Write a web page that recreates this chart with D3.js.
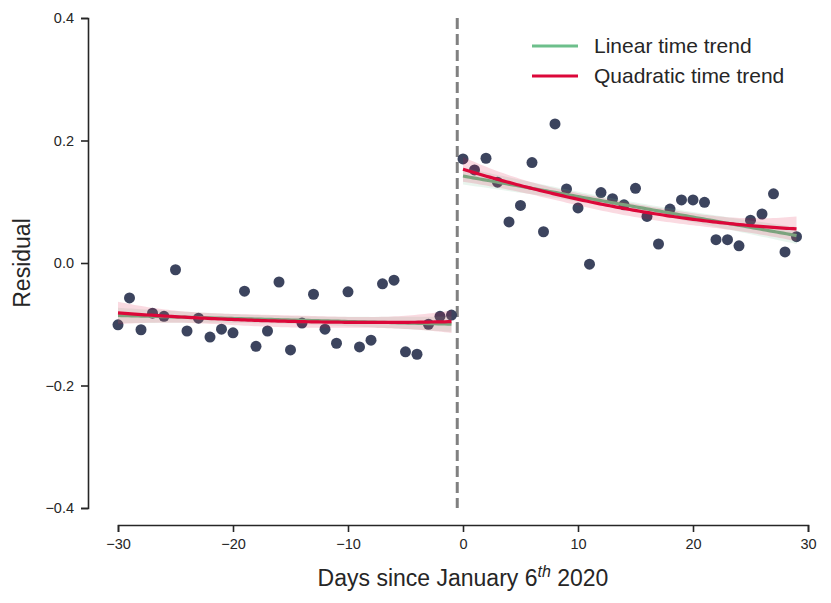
<!DOCTYPE html>
<html>
<head>
<meta charset="utf-8">
<script src="https://cdn.jsdelivr.net/npm/d3@7"></script>
<style>
body { margin: 0; background: #fff; }
text { font-family: "Liberation Sans", Arial, sans-serif; fill: #262626; }
</style>
</head>
<body>
<svg id="chart" width="831" height="603"></svg>
<script>
// days before and after the cutoff
var daysPre = [-30,-29,-28,-27,-26,-25,-24,-23,-22,-21,-20,-19,-18,-17,-16,-15,-14,-13,-12,-11,-10,-9,-8,-7,-6,-5,-4,-3,-2,-1];
var residPre = [-0.101,-0.057,-0.109,-0.082,-0.087,-0.011,-0.111,-0.090,-0.121,-0.108,-0.114,-0.046,-0.136,-0.111,-0.031,-0.142,-0.098,-0.051,-0.108,-0.131,-0.047,-0.137,-0.126,-0.034,-0.028,-0.145,-0.149,-0.100,-0.087,-0.085];
var daysPost = [0,1,2,3,4,5,6,7,8,9,10,11,12,13,14,15,16,17,18,19,20,21,22,23,24,25,26,27,28,29];
var residPost = [0.170,0.152,0.171,0.132,0.067,0.094,0.164,0.051,0.227,0.121,0.090,-0.002,0.115,0.105,0.095,0.122,0.076,0.031,0.088,0.103,0.103,0.099,0.038,0.038,0.028,0.070,0.080,0.113,0.018,0.043];

var xTicks = [-30,-20,-10,0,10,20,30];
var yTicks = [-0.4,-0.2,0.0,0.2,0.4];
var cutoff = -0.5;

var svg = d3.select("#chart");
var x = d3.scaleLinear().domain([-30, 30]).range([118, 808]);
var y = d3.scaleLinear().domain([-0.4, 0.4]).range([508, 18]);

// least squares fit with a pointwise band
function polyfit(xs, ys, deg) {
    var n = xs.length, p = deg + 1;
    var A = [], b = [];
    for (var i = 0; i < p; i++) { A.push(new Array(p).fill(0)); b.push(0); }
    xs.forEach(function(xv, k) {
        for (var i = 0; i < p; i++) {
            b[i] += Math.pow(xv, i) * ys[k];
            for (var j = 0; j < p; j++) A[i][j] += Math.pow(xv, i + j);
        }
    });
    // invert A (gauss-jordan)
    var M = A.map(function(r, i) {
        return r.concat(d3.range(p).map(function(j) { return i === j ? 1 : 0; }));
    });
    for (var c = 0; c < p; c++) {
        var piv = M[c][c];
        for (var j = 0; j < 2 * p; j++) M[c][j] /= piv;
        for (var r = 0; r < p; r++) {
            if (r === c) continue;
            var f = M[r][c];
            for (var j = 0; j < 2 * p; j++) M[r][j] -= f * M[c][j];
        }
    }
    var inv = M.map(function(r) { return r.slice(p); });
    var beta = inv.map(function(r) { return d3.sum(r, function(v, j) { return v * b[j]; }); });
    var pred = function(xv) { return d3.sum(beta, function(bv, i) { return bv * Math.pow(xv, i); }); };
    var sse = d3.sum(xs, function(xv, k) { return Math.pow(ys[k] - pred(xv), 2); });
    var s2 = sse / (n - p);
    var se = function(xv) {
        var v = d3.range(p).map(function(i) { return Math.pow(xv, i); });
        var q = 0;
        for (var i = 0; i < p; i++) for (var j = 0; j < p; j++) q += v[i] * inv[i][j] * v[j];
        return Math.sqrt(s2 * q);
    };
    return { pred: pred, se: se };
}

function curve(xs, ys, deg) {
    var fit = polyfit(xs, ys, deg);
    var lo = d3.min(xs), hi = d3.max(xs);
    var grid = d3.range(0, 101).map(function(i) { return lo + (hi - lo) * i / 100; });
    return grid.map(function(g) {
        var m = fit.pred(g), e = 0.9 * fit.se(g);
        return { x: g, y: m, lo: m - e, hi: m + e };
    });
}

var line = d3.line().x(function(d) { return x(d.x); }).y(function(d) { return y(d.y); });
var band = d3.area().x(function(d) { return x(d.x); })
    .y0(function(d) { return y(d.lo); }).y1(function(d) { return y(d.hi); });

var green = "#6dbf8b", red = "#dc0739", dot = "#323a55";

// dashed cutoff line
svg.append("line")
    .attr("x1", x(cutoff)).attr("x2", x(cutoff))
    .attr("y1", y(0.4)).attr("y2", y(-0.4))
    .attr("stroke", "#808080").attr("stroke-width", 3)
    .attr("stroke-dasharray", "11,5");

// scatter
var pts = daysPre.map(function(d, i) { return [d, residPre[i]]; })
    .concat(daysPost.map(function(d, i) { return [d, residPost[i]]; }));
svg.append("g").selectAll("circle").data(pts).enter().append("circle")
    .attr("cx", function(d) { return x(d[0]); })
    .attr("cy", function(d) { return y(d[1]); })
    .attr("r", 5.5)
    .attr("fill", dot).attr("fill-opacity", 0.95);

// fits
[[daysPre, residPre], [daysPost, residPost]].forEach(function(seg) {
    var lin = curve(seg[0], seg[1], 1);
    var quad = curve(seg[0], seg[1], 2);
    svg.append("path").datum(lin).attr("d", band).attr("fill", green).attr("fill-opacity", 0.15);
    svg.append("path").datum(lin).attr("d", line).attr("fill", "none")
        .attr("stroke", green).attr("stroke-width", 3.2);
    svg.append("path").datum(quad).attr("d", band).attr("fill", red).attr("fill-opacity", 0.15);
    svg.append("path").datum(quad).attr("d", line).attr("fill", "none")
        .attr("stroke", red).attr("stroke-width", 3.2);
});

// axes
var xAxis = svg.append("g").attr("transform", "translate(0,525)")
    .call(d3.axisBottom(x).tickValues(xTicks).tickSize(7).tickPadding(7)
        .tickFormat(function(d) { return d3.format("d")(d).replace("-", "\u2212"); }));
var yAxis = svg.append("g").attr("transform", "translate(88,0)")
    .call(d3.axisLeft(y).tickValues(yTicks).tickSize(7).tickPadding(7)
        .tickFormat(function(d) { return d3.format(".1f")(d).replace("-", "\u2212"); }));
[xAxis, yAxis].forEach(function(g) {
    g.attr("font-size", 14.5);
    g.selectAll("path, line").attr("stroke", "#262626").attr("stroke-width", 1.6);
    g.selectAll("text").attr("fill", "#262626")
        .style("font-family", "'Liberation Sans', Arial, sans-serif");
});

// axis labels
svg.append("text").attr("x", 463).attr("y", 586).attr("text-anchor", "middle")
    .attr("font-size", 23)
    .call(function(t) {
        t.append("tspan").text("Days since January 6");
        t.append("tspan").text("th").attr("font-style", "italic").attr("font-size", 16).attr("dy", -9);
        t.append("tspan").text(" 2020").attr("dy", 9);
    });
svg.append("text").attr("transform", "translate(30,263) rotate(-90)")
    .attr("text-anchor", "middle").attr("font-size", 23).text("Residual");

// legend
var legend = [{ name: "Linear time trend", color: green }, { name: "Quadratic time trend", color: red }];
var lg = svg.append("g").attr("transform", "translate(532,46)");
legend.forEach(function(l, i) {
    lg.append("line").attr("x1", 0).attr("x2", 46).attr("y1", i * 30).attr("y2", i * 30)
        .attr("stroke", l.color).attr("stroke-width", 3);
    lg.append("text").attr("x", 62).attr("y", i * 30 + 7).attr("font-size", 21).text(l.name);
});
</script>
</body>
</html>
